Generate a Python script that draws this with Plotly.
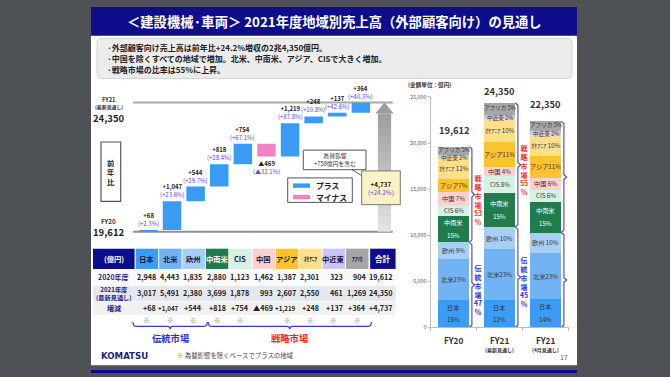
import plotly.graph_objects as go

W, H = 670, 377
def px(x): return x / W
def py(y): return 1 - y / H

# ---------------- data ----------------
regions = ["日本", "北米", "欧州", "中南米", "CIS", "中国", "アジア", "オセアニア", "中近東", "アフリカ"]
table_headers = ["日本", "北米", "欧州", "中南米", "CIS", "中国", "アジア", "ｵｾｱﾆｱ", "中近東", "ｱﾌﾘｶ"]
bar_label_names = ["日本", "北米", "欧州", "中南米", "CIS", "中国", "アジア", "ｵｾｱﾆｱ", "中近東", "アフリカ"]
sales_fy20 = [2948, 4443, 1835, 2880, 1123, 1462, 1387, 2301, 323, 904]
sales_fy21 = [3017, 5491, 2380, 3699, 1878, 993, 2607, 2550, 461, 1269]
sales_fy21_apr = [3050, 5050, 2200, 3350, 1300, 1300, 2400, 2250, 400, 1050]
change = [68, 1047, 544, 818, 754, -469, 1219, 248, 137, 364]
change_pct = [2.3, 23.6, 29.7, 28.4, 67.1, -32.1, 87.8, 10.8, 42.6, 40.3]
total_fy20 = 19612
total_fy21 = 24350
total_fy21_apr = 22350
total_change = 4737
total_change_pct = 24.2
fx_effect = 758
is_traditional = [True, True, True, False, False, False, False, False, False, False]
period_names = ["FY20", "FY21", "FY21"]
period_subtitles = ["", "(最新見通し)", "(4月見通し)"]
y_ticks = [0, 5000, 10000, 15000, 20000, 25000]
bullets = ["·外部顧客向け売上高は前年比+24.2%増収の2兆4,350億円。",
           "·中国を除くすべての地域で増加。北米、中南米、アジア、CISで大きく増加。",
           "·戦略市場の比率は55%に上昇。"]
title = "＜建設機械·車両＞ 2021年度地域別売上高（外部顧客向け）の見通し"

# ---------------- styles ----------------
FONT = "Noto Sans CJK JP"
NAVY = "#0e0e8c"
BLUE_BAR = "#3a9bf4"
PINK_BAR = "#f282c4"
PCT_COLOR = "#5a46e6"
BRACKET = "#4a3cc8"
RED = "#ff1e1e"
TRAD_BLUE = "#2c2ce0"
region_colors = ["#3c9cf4", "#72b4f3", "#a8cef3", "#207d4b", "#d6f2e4",
                 "#fbd1d2", "#fdc230", "#fee08b", "#cac5f6", "#a6a6a6"]
label_style = ["two", "", " ", "two", " ", " ", "", " ", " ", " "]
label_nudge = [0, 0, 0, 0, 0, 0, 0, 0, -1.2, 1.2]

def fmt_signed(v):
    return ("+" if v >= 0 else "▲") + f"{abs(v):,}"

def fmt_pct(p):
    return "(" + ("+" if p >= 0 else "▲") + f"{abs(p):.1f}%)"

shapes = []
ann = []

def A(**kw):
    d = dict(showarrow=False, xanchor="center", yanchor="middle")
    d.update(kw)
    ann.append(d)

def rrect(x0, y0, x1, y1, r):
    X, Y = px, py
    return (f"M {X(x0+r)},{Y(y0)} L {X(x1-r)},{Y(y0)} Q {X(x1)},{Y(y0)} {X(x1)},{Y(y0+r)} "
            f"L {X(x1)},{Y(y1-r)} Q {X(x1)},{Y(y1)} {X(x1-r)},{Y(y1)} L {X(x0+r)},{Y(y1)} "
            f"Q {X(x0)},{Y(y1)} {X(x0)},{Y(y1-r)} L {X(x0)},{Y(y0+r)} Q {X(x0)},{Y(y0)} {X(x0+r)},{Y(y0)} Z")

def prect(x0, y0, x1, y1, fill, line=None, lw=0, layer="below"):
    shapes.append(dict(type="rect", xref="paper", yref="paper", x0=px(x0), x1=px(x1),
                       y0=py(y1), y1=py(y0), fillcolor=fill, layer=layer,
                       line=dict(color=line or fill, width=lw)))

# ---------------- slide frame ----------------
prect(91, 3, 577, 369, "#ffffff")
prect(91, 3, 577, 32.5, NAVY)
prect(91, 374, 577, 377, NAVY)
shapes.append(dict(type="path", xref="paper", yref="paper", path=rrect(97, 35, 572, 76, 5),
                   fillcolor="#ececec", line=dict(color="#d2d2d2", width=1), layer="below"))
A(x=px(334), y=py(18), xref="paper", yref="paper", text=f"<b>{title}</b>",
  font=dict(size=13.3, color="#ffffff"))
for k, b in enumerate(bullets):
    A(x=px(105), y=py(44 + 11.3 * k), xref="paper", yref="paper", xanchor="left",
      text=f"<b>{b}</b>", font=dict(size=8, color="#222222"))

fig = go.Figure()

# ---------------- waterfall ----------------
wf_x = list(range(len(regions)))
fig.add_trace(go.Waterfall(
    x=wf_x, y=change, base=total_fy20, measure=["relative"] * len(change),
    increasing=dict(marker=dict(color=BLUE_BAR, line=dict(width=0))),
    decreasing=dict(marker=dict(color=PINK_BAR, line=dict(width=0))),
    connector=dict(visible=False), showlegend=False, hoverinfo="skip",
    xaxis="x", yaxis="y"))

running = total_fy20
for i, (d, p) in enumerate(zip(change, change_pct)):
    running += d
    txt = f"<b>{fmt_signed(d)}</b><br><span style='color:{PCT_COLOR}'>{fmt_pct(p)}</span>"
    A(x=i, y=running, xref="x", yref="y", text=txt,
      yanchor="bottom" if d >= 0 else "top", yshift=0 if d >= 0 else -1,
      font=dict(size=6, color="#222222"))

# reference lines
for val, col in [(total_fy21, "#a8a8a8"), (total_fy20, "#909090")]:
    shapes.append(dict(type="line", xref="x", yref="y", x0=-0.65, x1=10.35, y0=val, y1=val,
                       line=dict(color=col, width=2), layer="below"))

# total arrow (gradient)
arrow_x = len(regions)
head = 0.085 * total_change
body_top = total_fy21 - head
n = 16
for k in range(n):
    y0 = total_fy20 + (body_top - total_fy20) * k / n
    y1 = total_fy20 + (body_top - total_fy20) * (k + 1.15) / n
    t = (k + 0.5) / n
    g = int(228 - t * (228 - 158))
    shapes.append(dict(type="rect", xref="x", yref="y", x0=arrow_x - 0.28, x1=arrow_x + 0.28,
                       y0=y0, y1=min(y1, body_top), fillcolor=f"rgb({g},{g},{g})",
                       line=dict(width=0), layer="below"))
shapes.append(dict(type="path", xref="x", yref="y",
                   path=f"M {arrow_x-0.39},{body_top} L {arrow_x+0.39},{body_top} L {arrow_x},{total_fy21} Z",
                   fillcolor="#9c9c9c", line=dict(width=0), layer="below"))

# left labels
A(x=px(109), y=py(97.5), xref="paper", yref="paper", text="<b>FY21</b>", font=dict(size=5.8, color="#333"))
A(x=px(109), y=py(105.3), xref="paper", yref="paper", text="<b>(最新見通し)</b>", font=dict(size=4.9, color="#333"))
A(x=px(109), y=py(116.5), xref="paper", yref="paper", text=f"<b>{total_fy21:,}</b>", font=dict(size=9.5, color="#222"))
A(x=px(109), y=py(222), xref="paper", yref="paper", text="<b>FY20</b>", font=dict(size=6.3, color="#333"))
A(x=px(109), y=py(232.5), xref="paper", yref="paper", text=f"<b>{total_fy20:,}</b>", font=dict(size=9.5, color="#222"))
prect(101, 141, 120.7, 201.7, "#ffffff", "#555555", 1.2, "above")
A(x=px(110.9), y=py(172), xref="paper", yref="paper", text="<b>前<br>年<br>比</b>", font=dict(size=7.3, color="#222"))

# legend box
prect(287.7, 177.7, 352.3, 202.7, "#ffffff", "#555555", 1, "above")
prect(293, 183.3, 310, 187.8, BLUE_BAR, layer="above")
prect(293, 195, 310, 199.5, PINK_BAR, layer="above")
A(x=px(314), y=py(185.7), xref="paper", yref="paper", xanchor="left", text="<b>プラス</b>", font=dict(size=7.8, color="#222"))
A(x=px(314), y=py(197.3), xref="paper", yref="paper", xanchor="left", text="<b>マイナス</b>", font=dict(size=7.8, color="#222"))

# fx callout
prect(303.3, 149.3, 366, 169.3, "#ffffff", "#555555", 1, "above")
A(x=px(334.7), y=py(159.3), xref="paper", yref="paper",
  text=f"為替影響<br>+{fx_effect}億円を含む", font=dict(size=5.8, color="#333"))
shapes.append(dict(type="line", xref="paper", yref="paper", x0=px(352), y0=py(169.3), x1=px(362), y1=py(175.5),
                   line=dict(color="#555555", width=1), layer="above"))
prect(361.7, 170.5, 400.3, 205, "#fdf1c8", "#777777", 1, "above")
A(x=px(381), y=py(188.5), xref="paper", yref="paper",
  text=f"<b>{fmt_signed(total_change)}</b><br><span style='color:{PCT_COLOR}'>{fmt_pct(total_change_pct)}</span>",
  font=dict(size=6.3, color="#222"))

# ---------------- table (x3 axis) ----------------
rows = [(250, 270.7), (271.7, 287), (287.8, 303.6), (304.4, 317.5)]
row_fill = ["#fafafa", "#e5e8ee", "#f1f1f1"]
label_col = (-2.31, -0.53)
total_col = (9.55, 10.64)
col_spans = [label_col] + [(i - 0.48, i + 0.48) for i in range(len(regions))] + [total_col]
hdr_fill = [NAVY] + region_colors + [NAVY]
hdr_text = ["(億円)"] + table_headers + ["合計"]
hdr_font_color = ["#ffffff"] + ["#1a1a40"] * 3 + ["#ffffff"] + ["#1a1a40"] * 6 + ["#ffffff"]
hdr_font_size = [7.3] + [7.3] * 7 + [5.2, 7.3, 5.2] + [7.5]

for r, (y0, y1) in enumerate(rows[1:]):
    shapes.append(dict(type="rect", xref="x3", yref="paper", x0=label_col[0], x1=total_col[1],
                       y0=py(y1), y1=py(y0), fillcolor=row_fill[r], line=dict(width=0), layer="below"))
for c, (x0, x1) in enumerate(col_spans):
    shapes.append(dict(type="rect", xref="x3", yref="paper", x0=x0, x1=x1,
                       y0=py(rows[0][1]), y1=py(rows[0][0]), fillcolor=hdr_fill[c],
                       line=dict(width=0), layer="below"))
    A(x=(x0 + x1) / 2, y=py((rows[0][0] + rows[0][1]) / 2), xref="x3", yref="paper",
      text=f"<b>{hdr_text[c]}</b>", font=dict(size=hdr_font_size[c], color=hdr_font_color[c]))

row_labels = ["<b>2020年度</b>", "<b>2021年度</b><br><b>(最新見通し)</b>", "<b>増減</b>"]
row_label_size = [7, 6.2, 7]
for r, (y0, y1) in enumerate(rows[1:]):
    A(x=sum(label_col) / 2, y=py((y0 + y1) / 2), xref="x3", yref="paper", text=row_labels[r],
      font=dict(size=row_label_size[r], color="#22228a"))

table_rows = [
    [f"{v:,}" for v in sales_fy20] + [f"{total_fy20:,}"],
    [f"{v:,}" for v in sales_fy21] + [f"{total_fy21:,}"],
    [fmt_signed(v) for v in change] + [fmt_signed(total_change)],
]
for r, vals in enumerate(table_rows):
    y0, y1 = rows[r + 1]
    for c, v in enumerate(vals):
        x1 = col_spans[c + 1][1]
        size = 6.2 if (len(v) > 5 and c < len(regions)) else 7.2
        A(x=x1 - 0.02, y=py((y0 + y1) / 2), xref="x3", yref="paper", xanchor="right",
          text=f"<b>{v}</b>", font=dict(size=size, color="#222222"))

# markers and brackets below table
for i, d in enumerate(change):
    if d > 0:
        A(x=i, y=py(323.3), xref="x3", yref="paper", text="※", font=dict(size=6.5, color="#888888"))

trad_idx = [i for i, t in enumerate(is_traditional) if t]
strat_idx = [i for i, t in enumerate(is_traditional) if not t]
groups = [(trad_idx[0] - 0.6, trad_idx[-1] + 0.58, "伝統市場", TRAD_BLUE),
          (strat_idx[0] - 0.38, strat_idx[-1] + 0.6, "戦略市場", RED)]
yl, yt, yb = py(329.3), py(325), py(332.3)
for x0, x1, name, col in groups:
    xc = (x0 + x1) / 2
    dx = 0.12
    path = (f"M {x0},{yt} Q {x0},{yl} {x0+dx},{yl} L {xc-dx},{yl} Q {xc},{yl} {xc},{yb} "
            f"Q {xc},{yl} {xc+dx},{yl} L {x1-dx},{yl} Q {x1},{yl} {x1},{yt}")
    shapes.append(dict(type="path", xref="x3", yref="paper", path=path,
                       line=dict(color="#3a3ad0", width=1.2), layer="above"))
    A(x=xc, y=py(340.8), xref="x3", yref="paper", text=f"<b>{name}</b>", font=dict(size=9.3, color=col))

fig.add_trace(go.Scatter(x=[None], y=[None], xaxis="x3", yaxis="y3", showlegend=False, hoverinfo="skip"))

# footer
A(x=px(99), y=py(359.5), xref="paper", yref="paper", xanchor="left",
  text="<b>KOMATSU</b>", font=dict(size=8.6, color="#1c1f78", family="DejaVu Sans"))
A(x=px(175), y=py(359.5), xref="paper", yref="paper", xanchor="left",
  text="<span style='color:#888'>※</span> 為替影響を除くベースでプラスの地域", font=dict(size=6.4, color="#444444"))
A(x=px(564), y=py(361), xref="paper", yref="paper", text="17", font=dict(size=6.8, color="#5050d0"))

# ---------------- stacked bars (right) ----------------
periods = [sales_fy20, sales_fy21, sales_fy21_apr]
period_totals = [total_fy20, total_fy21, total_fy21_apr]
for i, r in enumerate(regions):
    fig.add_trace(go.Bar(x=[0, 1, 2], y=[p[i] for p in periods], name=r,
                         marker=dict(color=region_colors[i], line=dict(width=0)),
                         width=0.674, xaxis="x2", yaxis="y2", showlegend=False, hoverinfo="skip"))

total_shift = [8, 3, 8]
for j, vals in enumerate(periods):
    tot = period_totals[j]
    top = sum(vals)
    cum = 0
    for i, v in enumerate(vals):
        yc = cum + v / 2
        pct = round(100 * v / tot)
        col = "#ffffff" if region_colors[i] == "#207d4b" else "#333333"
        if label_style[i] == "two":
            A(x=j, y=yc, xref="x2", yref="y2", text=bar_label_names[i], yshift=6.5,
              font=dict(size=6.2, color=col))
            A(x=j, y=yc, xref="x2", yref="y2", text=f"{pct}%", yshift=-6,
              font=dict(size=6.2, color=col))
        else:
            fs = 5.6 if label_nudge[i] else 6.2
            A(x=j, y=yc, xref="x2", yref="y2", text=f"{bar_label_names[i]}{label_style[i]}{pct}%",
              yshift=label_nudge[i], font=dict(size=fs, color=col))
        cum += v
    trad = sum(v for v, t in zip(vals, is_traditional) if t)
    trad_pct = round(100 * trad / tot)
    strat_pct = 100 - trad_pct
    A(x=j, y=top, xref="x2", yref="y2", yanchor="bottom", yshift=total_shift[j],
      text=f"<b>{tot:,}</b>", font=dict(size=9.3, color="#333333"))
    # brackets
    xl = j + 0.345
    xm = xl + 0.055
    xt = xm + 0.06
    for y0, y1 in [(0, trad), (trad, top)]:
        ym = (y0 + y1) / 2
        dd = 250
        fig.add_trace(go.Scatter(
            x=[xl, xm, xm, xt, xm, xm, xl],
            y=[y0, y0 + dd, ym - dd, ym, ym + dd, y1 - dd, y1],
            mode="lines", line=dict(color=BRACKET, width=1.1),
            xaxis="x2", yaxis="y2", showlegend=False, hoverinfo="skip", cliponaxis=False))
    A(x=j + 0.535, y=(trad + top) / 2, xref="x2", yref="y2", yshift=-5,
      text="<b>戦<br>略<br>市<br>場<br>" + f"{strat_pct}<br>%</b>", font=dict(size=6.8, color=RED))
    A(x=j + 0.535, y=trad / 2, xref="x2", yref="y2", yshift=-5,
      text="<b>伝<br>統<br>市<br>場<br>" + f"{trad_pct}<br>%</b>", font=dict(size=6.8, color=TRAD_BLUE))
    A(x=j, y=py(343.5), xref="x2", yref="paper",
      text=f"<b>{period_names[j]}</b>", font=dict(size=8.3, color="#333333"))
    if period_subtitles[j]:
        A(x=j, y=py(353), xref="x2", yref="paper", text=f"<b>{period_subtitles[j]}</b>",
          font=dict(size=5, color="#333333"))

A(x=px(406), y=py(83), xref="paper", yref="paper", xanchor="left",
  text="<b>(金額単位：億円)</b>", font=dict(size=5.6, color="#333333"))

fig.update_layout(
    width=W, height=H, margin=dict(l=0, r=0, t=0, b=0),
    paper_bgcolor="#4e5155", plot_bgcolor="rgba(0,0,0,0)",
    font=dict(family=FONT, size=7, color="#222"),
    barmode="stack", waterfallgap=0.216, showlegend=False,
    xaxis=dict(domain=[px(133), px(397)], range=[-0.653, 10.53], visible=False),
    yaxis=dict(domain=[py(240), py(80)], range=[19350, 25093], visible=False),
    xaxis2=dict(domain=[px(430.5), px(568.5)], range=[-0.5, 2.5], anchor="y2", showline=True,
                linecolor="#bdbdbd", ticks="outside", tickvals=[-0.5, 0.5, 1.5, 2.5], ticklen=3,
                tickcolor="#bdbdbd", showticklabels=False, showgrid=False, zeroline=False),
    yaxis2=dict(domain=[py(330.5), py(95)], range=[0, 25000], anchor="x2", showline=True,
                linecolor="#bdbdbd", ticks="outside", ticklen=2, tickcolor="#bdbdbd",
                tickvals=y_ticks, tickformat=",", tickfont=dict(size=5.3, color="#555555"),
                showgrid=False, zeroline=False),
    xaxis3=dict(domain=[px(93), px(397)], range=[-2.31, 10.70], anchor="y3", visible=False),
    yaxis3=dict(domain=[0, 1], range=[0, 1], anchor="x3", visible=False),
    shapes=shapes, annotations=ann,
)

fig.write_html("out.html", config={"displayModeBar": False, "staticPlot": True},
               post_script="document.body.style.margin='0';document.body.style.overflow='hidden';"
                           "document.body.style.background='#4e5155';")
